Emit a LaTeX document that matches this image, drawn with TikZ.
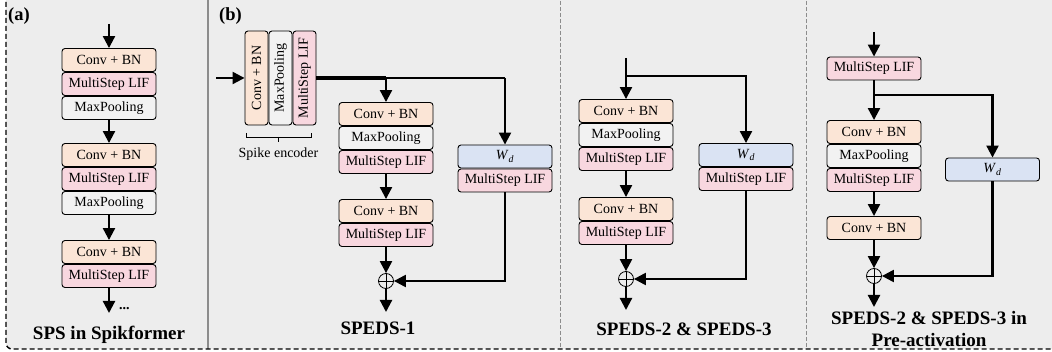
\documentclass[tikz,border=0pt]{standalone}
\usepackage{fontspec}
\setmainfont{Liberation Serif}
\usetikzlibrary{arrows.meta}
\definecolor{convc}{HTML}{FBE5D6}
\definecolor{lifc}{HTML}{F8D7DF}
\definecolor{poolc}{HTML}{F2F2F2}
\definecolor{wdc}{HTML}{DAE3F3}
\definecolor{bgc}{HTML}{EDEDED}
\definecolor{sepc}{HTML}{8C8C8C}
\begin{document}
\begin{tikzpicture}[x=1pt,y=-1pt,
  blk/.style={draw, line width=0.9pt, rounded corners=3pt, minimum width=94pt, minimum height=23pt, inner sep=0pt, font=\fontsize{14}{16}\selectfont},
  conv/.style={blk, fill=convc},
  lif/.style={blk, fill=lifc},
  pool/.style={blk, fill=poolc},
  wd/.style={blk, fill=wdc},
  enc/.style={minimum width=23pt, minimum height=94pt},
  arr/.style={line width=2.2pt, -{Triangle[length=12pt,width=12pt]}},
  plus/.style={circle, draw, line width=0.8pt, minimum size=15pt, inner sep=0pt,
    path picture={\draw[line width=0.8pt] (path picture bounding box.north) -- (path picture bounding box.south) (path picture bounding box.west) -- (path picture bounding box.east);}},
  ttl/.style={font=\fontsize{19}{22}\selectfont\bfseries, anchor=base, inner sep=0pt},
  lbl/.style={font=\fontsize{18.5}{20}\selectfont\bfseries, anchor=base west, inner sep=0pt},
]
\useasboundingbox (0,0) rectangle (1052,352);
\clip (0,0) rectangle (1052,352);
\fill[white] (0,0) rectangle (1052,352);
% background
\fill[bgc, rounded corners=6pt] (6,-20) rectangle (1090,349);
% separators
\draw[sepc, line width=2pt] (208,-5) -- (208,349);
\draw[sepc, line width=0.8pt, dash pattern=on 4pt off 2pt] (560,-5) -- (560,349);
\draw[sepc, line width=0.8pt, dash pattern=on 4pt off 2pt] (806,-5) -- (806,349);
% border
\draw[line width=1.4pt, dash pattern=on 5pt off 3pt, rounded corners=6pt] (6,-20) rectangle (1090,349);

% ---------------- panel (a)
\node[lbl] (la) at (8,21) {(a)};
\coordinate (a0) at (109,24);
\node[conv] (A1) at (109,60) {Conv + BN};
\node[lif] (A2) at (109,84) {MultiStep LIF};
\node[pool] (A3) at (109,108) {MaxPooling};
\node[conv] (A4) at (109,155) {Conv + BN};
\node[lif] (A5) at (109,179) {MultiStep LIF};
\node[pool] (A6) at (109,203) {MaxPooling};
\node[conv] (A7) at (109,252) {Conv + BN};
\node[lif] (A8) at (109,276) {MultiStep LIF};
\coordinate (a9) at (109,313);
\draw[arr] (a0) -- (A1.north);
\draw[arr] (A3.south) -- (A4.north);
\draw[arr] (A6.south) -- (A7.north);
\draw[arr] (A8.south) -- (a9);
\node[font=\fontsize{14}{16}\selectfont\bfseries, anchor=base west, inner sep=0pt] (dots) at (119,310) {...};
\node[ttl] (ta) at (109,339.5) {SPS in Spikformer};

% ---------------- panel (b)
\node[lbl] (lb) at (219,21) {(b)};
\node[conv, enc] (E1) at (256.5,78) {\rotatebox{90}{Conv + BN}};
\node[pool, enc] (E2) at (280.5,78) {\rotatebox{90}{MaxPooling}};
\node[lif, enc] (E3) at (304.5,78) {\rotatebox{90}{MultiStep LIF}};
\coordinate (e0) at (216,78);
\draw[arr] (e0) -- (E1.west);
\draw[line width=0.8pt] (246,133) -- (246,137) -- (311,137) -- (311,133);
\draw[line width=0.8pt] (278.5,137) -- (278.5,142);
\node[font=\fontsize{14}{16}\selectfont, anchor=base, inner sep=0pt] (senc) at (278.5,158) {Spike encoder};
\coordinate (b1) at (386,78);
\coordinate (b2) at (505,78);
\draw[line width=3.2pt] (E3.east) -- (b1);
\draw[line width=2.6pt] (b1) -- (b2);
\node[conv] (B1) at (386,114) {Conv + BN};
\node[pool] (B2) at (386,138) {MaxPooling};
\node[lif] (B3) at (386,162) {MultiStep LIF};
\node[conv] (B4) at (386,211) {Conv + BN};
\node[lif] (B5) at (386,235) {MultiStep LIF};
\node[plus] (P1) at (386,281) {};
\coordinate (b9) at (386,312);
\node[wd] (W1) at (505,156.5) {\textit{W}\textsubscript{\textit{d}}};
\node[lif] (L1) at (505,180.5) {MultiStep LIF};
\draw[arr] (b1) -- (B1.north);
\draw[arr] (b2) -- (W1.north);
\draw[arr] (B3.south) -- (B4.north);
\draw[arr] (B5.south) -- (P1.north);
\draw[arr] (P1.south) -- (b9);
\draw[arr] (L1.south) |- (P1.east);
\node[ttl] (tb) at (378,335) {SPEDS-1};

% ---------------- panel (c)
\coordinate (c0) at (626,58);
\coordinate (c1) at (626,76);
\node[conv] (C1) at (626,111) {Conv + BN};
\node[pool] (C2) at (626,135) {MaxPooling};
\node[lif] (C3) at (626,159) {MultiStep LIF};
\node[conv] (C4) at (626,209) {Conv + BN};
\node[lif] (C5) at (626,233) {MultiStep LIF};
\node[plus] (P2) at (626,279) {};
\coordinate (c9) at (626,310);
\node[wd] (W2) at (746,155) {\textit{W}\textsubscript{\textit{d}}};
\node[lif] (L2) at (746,179) {MultiStep LIF};
\draw[arr] (c0) -- (C1.north);
\draw[arr] (c1) -| (W2.north);
\draw[arr] (C3.south) -- (C4.north);
\draw[arr] (C5.south) -- (P2.north);
\draw[arr] (P2.south) -- (c9);
\draw[arr] (L2.south) |- (P2.east);
\node[ttl] (tc) at (684,336) {SPEDS-2 \& SPEDS-3};

% ---------------- panel (d)
\coordinate (d0) at (874,32);
\node[lif] (D0) at (874,68.5) {MultiStep LIF};
\coordinate (d1) at (874,95);
\node[conv] (D1) at (874,132) {Conv + BN};
\node[pool] (D2) at (874,156) {MaxPooling};
\node[lif] (D3) at (874,180) {MultiStep LIF};
\node[conv] (D4) at (874,228) {Conv + BN};
\node[plus] (P3) at (874,276) {};
\coordinate (d9) at (874,307);
\node[wd] (W3) at (992.5,169.5) {\textit{W}\textsubscript{\textit{d}}};
\draw[arr] (d0) -- (D0.north);
\draw[arr] (D0.south) -- (D1.north);
\draw[arr] (d1) -| (W3.north);
\draw[arr] (D3.south) -- (D4.north);
\draw[arr] (D4.south) -- (P3.north);
\draw[arr] (P3.south) -- (d9);
\draw[arr] (W3.south) |- (P3.east);
\node[ttl] (td1) at (929,325) {SPEDS-2 \& SPEDS-3 in};
\node[ttl] (td2) at (929,347) {Pre-activation};
\end{tikzpicture}
\end{document}
